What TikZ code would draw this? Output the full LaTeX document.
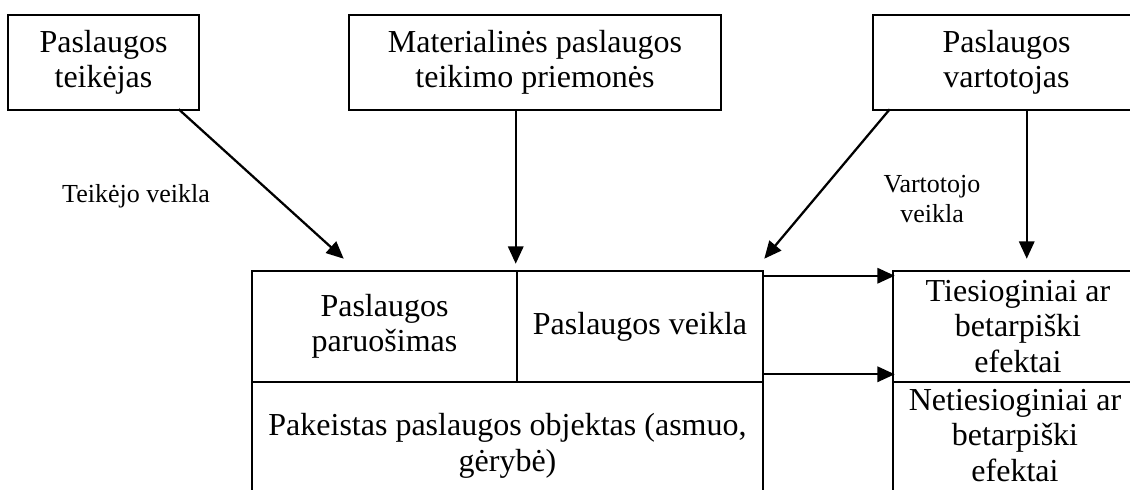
\documentclass[tikz,border=0pt]{standalone}
\usepackage{fontspec}
\setmainfont{Liberation Serif}
\usetikzlibrary{arrows.meta,calc}
\begin{document}
\begin{tikzpicture}[x=0.75pt,y=-0.75pt,
  box/.style={draw, line width=1.9pt, inner sep=0pt, align=center,
    font=\fontsize{24}{26.6}\selectfont},
  sz/.style 2 args={minimum width=#1*0.75pt, minimum height=#2*0.75pt},
  lbl/.style={align=center, inner sep=0pt, font=\fontsize{19.5}{22.5}\selectfont},
  txt/.style={align=center, inner sep=0pt, font=\fontsize{24}{26.6}\selectfont},
  arr/.style={line width=1.7pt, -{Triangle[length=13pt,width=11.5pt]}}]
\useasboundingbox (0,0) rectangle (1130,489);
\clip (0,0) rectangle (1130,489);

% top row: participants and means
\node[box, sz={191}{95}] (prov) at (103.5,62.5) {Paslaugos\\teikėjas};
\node[box, sz={372}{95}] (means) at (535,62.5) {Materialinės paslaugos\\teikimo priemonės};
\node[box, sz={267}{95}] (cons) at (1006.5,62.5) {Paslaugos\\vartotojas};

% service process block
\node[box, sz={265}{111}] (prep) at (384.5,326.5) {Paslaugos\\paruošimas};
\node[box, sz={246}{111}] (act) at (640,326.5) {Paslaugos veikla};
\node[box, sz={511}{128}] (obj) at (507.5,446) {Pakeistas paslaugos objektas (asmuo,\\gėrybė)};

% effects
\node[box, sz={250}{111}] (eff1) at (1018,326.5) {Tiesioginiai ar\\betarpiški\\efektai};
\node[box, sz={250}{138}] (eff2) at (1018,451) {};
\node[txt] (eff2t) at (1015,435.5) {Netiesioginiai ar\\betarpiški\\efektai};

% activity labels
\node[lbl] (provact) at (136,196) {Teikėjo veikla};
\node[lbl] (consact) at (932,199) {Vartotojo\\veikla};

% connectors
\draw[arr] ($(prov.south west)+(172,-2)$) -- ($(prep.north west)+(93,-11)$);
\draw[arr] (means.south -| act.west) -- ($(act.north west)+(0,-6)$);
\draw[arr] ($(cons.south west)+(18,-2)$) -- ($(act.north east)+(0,-11)$);
\draw[arr] ($(cons.south west)+(155,0)$) -- ($(eff1.north west)+(135,-11)$);
\draw[arr] ($(act.north east)+(0,6)$) -- ($(eff1.north west)+(3,6)$);
\draw[arr] ($(act.south east)+(0,-9)$) -- ($(eff1.south west)+(3,-9)$);
\end{tikzpicture}
\end{document}
